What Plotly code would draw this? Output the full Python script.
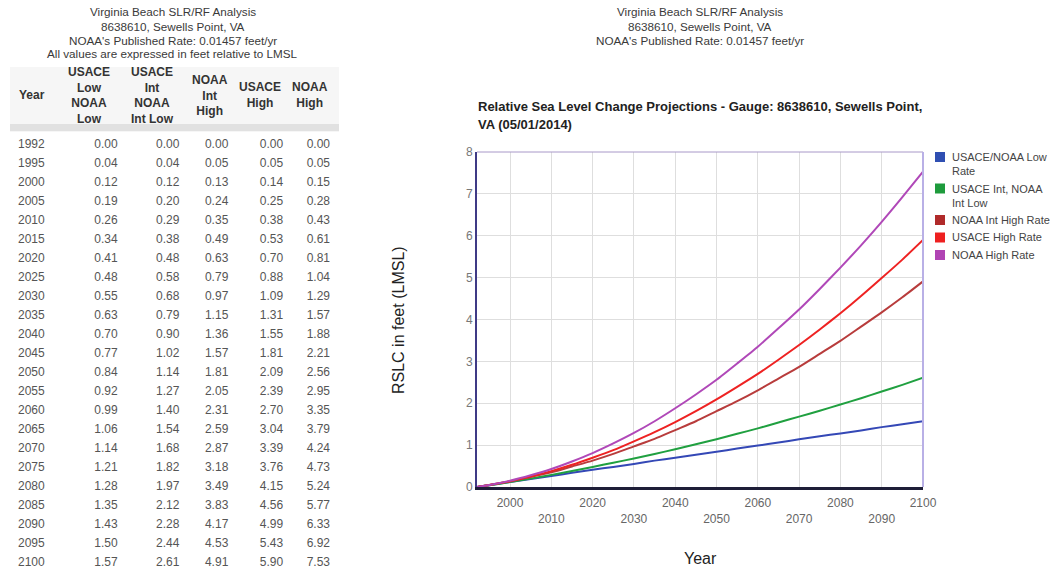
import plotly.graph_objects as go

# ---------------- data ----------------
years = [1992, 1995, 2000, 2005, 2010, 2015, 2020, 2025, 2030, 2035, 2040,
         2045, 2050, 2055, 2060, 2065, 2070, 2075, 2080, 2085, 2090, 2095, 2100]
usace_low = [0.00, 0.04, 0.12, 0.19, 0.26, 0.34, 0.41, 0.48, 0.55, 0.63, 0.70,
             0.77, 0.84, 0.92, 0.99, 1.06, 1.14, 1.21, 1.28, 1.35, 1.43, 1.50, 1.57]
usace_int = [0.00, 0.04, 0.12, 0.20, 0.29, 0.38, 0.48, 0.58, 0.68, 0.79, 0.90,
             1.02, 1.14, 1.27, 1.40, 1.54, 1.68, 1.82, 1.97, 2.12, 2.28, 2.44, 2.61]
noaa_int_high = [0.00, 0.05, 0.13, 0.24, 0.35, 0.49, 0.63, 0.79, 0.97, 1.15, 1.36,
                 1.57, 1.81, 2.05, 2.31, 2.59, 2.87, 3.18, 3.49, 3.83, 4.17, 4.53, 4.91]
usace_high = [0.00, 0.05, 0.14, 0.25, 0.38, 0.53, 0.70, 0.88, 1.09, 1.31, 1.55,
              1.81, 2.09, 2.39, 2.70, 3.04, 3.39, 3.76, 4.15, 4.56, 4.99, 5.43, 5.90]
noaa_high = [0.00, 0.05, 0.15, 0.28, 0.43, 0.61, 0.81, 1.04, 1.29, 1.57, 1.88,
             2.21, 2.56, 2.95, 3.35, 3.79, 4.24, 4.73, 5.24, 5.77, 6.33, 6.92, 7.53]

series_names = ["USACE/NOAA Low Rate", "USACE Int, NOAA Int Low", "NOAA Int High Rate",
                "USACE High Rate", "NOAA High Rate"]
legend_labels = ["USACE/NOAA Low<br>Rate", "USACE Int, NOAA<br>Int Low", "NOAA Int High Rate",
                 "USACE High Rate", "NOAA High Rate"]
header_labels = ["Year", "USACE<br>Low<br>NOAA<br>Low", "USACE<br>Int<br>NOAA<br>Int Low",
                 "NOAA<br>Int<br>High", "USACE<br>High", "NOAA<br>High"]
left_title_lines = ["Virginia Beach SLR/RF Analysis", "8638610, Sewells Point, VA",
                    "NOAA's Published Rate: 0.01457 feet/yr",
                    "All values are expressed in feet relative to LMSL"]
right_title_lines = ["Virginia Beach SLR/RF Analysis", "8638610, Sewells Point, VA",
                     "NOAA's Published Rate: 0.01457 feet/yr"]
chart_title_lines = ["Relative Sea Level Change Projections - Gauge: 8638610, Sewells Point,",
                     "VA (05/01/2014)"]
x_tickvals = [2000, 2010, 2020, 2030, 2040, 2050, 2060, 2070, 2080, 2090, 2100]
y_tickvals = [0, 1, 2, 3, 4, 5, 6, 7, 8]

series_values = [usace_low, usace_int, noaa_int_high, usace_high, noaa_high]

# ---------------- styles ----------------
W, H = 1050, 569
FONT = "Liberation Sans, Arial, sans-serif"
line_colors = ["#3448b6", "#20a040", "#b83c3c", "#ee2222", "#b048b8"]
legend_colors = ["#2f4fb2", "#1e9b3c", "#b02a2a", "#ee2020", "#b044b4"]


def px(x):
    return x / W


def py(y):
    return 1 - y / H


fig = go.Figure()

# ---------------- table ----------------
col_px = [10, 58, 126, 188, 237, 292, 339]
col_widths = [col_px[i + 1] - col_px[i] for i in range(6)]
table_top = 67
header_h = 64
fig.add_trace(go.Table(
    domain=dict(x=[px(col_px[0]), px(col_px[-1])], y=[0, py(table_top)]),
    columnwidth=col_widths,
    header=dict(values=[""] * 6, height=header_h, fill_color="#f6f6f6",
                line_color="#f6f6f6"),
    cells=dict(values=[years] + series_values,
               format=["d", ".2f", ".2f", ".2f", ".2f", ".2f"],
               align=["left", "right", "right", "right", "right", "right"],
               height=19, fill_color="white", line_color="white",
               font=dict(family=FONT, size=12, color="#555555")),
))

# ---------------- chart lines ----------------
for name, vals, color in zip(series_names, series_values, line_colors):
    fig.add_trace(go.Scatter(x=years, y=vals, name=name, mode="lines",
                             line=dict(color=color, width=2, shape="spline", smoothing=0.6),
                             showlegend=False))

x_ticktext = [str(v) if i % 2 == 0 else "<br>" + str(v) for i, v in enumerate(x_tickvals)]

fig.update_layout(
    width=W, height=H, margin=dict(l=0, r=0, t=0, b=0, autoexpand=False),
    paper_bgcolor="white", plot_bgcolor="white",
    font=dict(family=FONT, size=12, color="#444444"),
    showlegend=False,
    xaxis=dict(domain=[px(477), px(923)], range=[1992, 2100],
               tickvals=x_tickvals, ticktext=x_ticktext,
               tickfont=dict(size=12, color="#666666"),
               ticks="outside", ticklen=3, tickcolor="rgba(0,0,0,0)",
               showgrid=True, gridcolor="#dedede", gridwidth=1,
               showline=True, linecolor="#1e1e38", linewidth=3, zeroline=False),
    yaxis=dict(domain=[py(487), py(152)], range=[0, 8],
               tickvals=y_tickvals, tickfont=dict(size=12, color="#777777"),
               showgrid=True, gridcolor="#dedede", gridwidth=1,
               showline=True, linecolor="#3f3a86", linewidth=2, zeroline=False),
)

shapes = [
    dict(type="line", xref="x domain", yref="y domain", x0=0, x1=1, y0=1, y1=1,
         line=dict(color="#a898c8", width=1)),
    dict(type="line", xref="x domain", yref="y domain", x0=1, x1=1, y0=0, y1=1,
         line=dict(color="#b9b0e6", width=2)),
    # header bottom band
    dict(type="rect", xref="paper", yref="paper", x0=px(col_px[0]), x1=px(col_px[-1]),
         y0=py(table_top + header_h), y1=py(table_top + header_h - 7),
         fillcolor="#d8d8d8", line=dict(width=0), layer="above", opacity=0.7),
]

annotations = []
for i, t in enumerate(left_title_lines):
    annotations.append(dict(text=t, x=px(173), y=py(12 + 14 * i), xref="paper", yref="paper",
                            showarrow=False, xanchor="center", yanchor="middle",
                            font=dict(size=11.7, color="#3a3a3a")))
for i, t in enumerate(right_title_lines):
    annotations.append(dict(text=t, x=px(700), y=py(12 + 14 * i), xref="paper", yref="paper",
                            showarrow=False, xanchor="center", yanchor="middle",
                            font=dict(size=11.7, color="#3a3a3a")))
for i, t in enumerate(chart_title_lines):
    annotations.append(dict(text="<b>" + t + "</b>", x=px(476), y=py(107 + 18 * i),
                            xref="paper", yref="paper", showarrow=False,
                            xanchor="left", yanchor="middle",
                            font=dict(size=13, color="#222222")))

header_x = [32, 89, 152, 210, 260, 310]
for lbl, hx in zip(header_labels, header_x):
    annotations.append(dict(text="<b>" + lbl + "</b>", x=px(hx), y=py(95), xref="paper",
                            yref="paper", showarrow=False, xanchor="center",
                            yanchor="middle", align="center",
                            font=dict(size=12, color="#333333")))

annotations.append(dict(text="RSLC in feet (LMSL)", x=px(398), y=py(320), xref="paper",
                        yref="paper", showarrow=False, textangle=-90,
                        xanchor="center", yanchor="middle",
                        font=dict(size=16, color="#222222")))
annotations.append(dict(text="Year", x=px(700), y=py(558), xref="paper", yref="paper",
                        showarrow=False, xanchor="center", yanchor="middle",
                        font=dict(size=16, color="#222222")))

# custom legend
ly = 157
for lbl, col in zip(legend_labels, legend_colors):
    nlines = lbl.count("<br>") + 1
    shapes.append(dict(type="rect", xref="paper", yref="paper",
                       x0=px(935), x1=px(945), y0=py(ly + 5), y1=py(ly - 5),
                       fillcolor=col, line=dict(width=0)))
    annotations.append(dict(text=lbl, x=px(950), y=py(ly - 8), xref="paper", yref="paper",
                            showarrow=False, xanchor="left", yanchor="top", align="left",
                            font=dict(size=11, color="#444444")))
    ly += 14 * nlines + 3.5

fig.update_layout(shapes=shapes, annotations=annotations)
fig.write_html("out.html", config={"displayModeBar": False},
               post_script="document.body.style.margin='0';"
                           "document.body.style.overflow='hidden';"
                           "document.documentElement.style.overflow='hidden';")
